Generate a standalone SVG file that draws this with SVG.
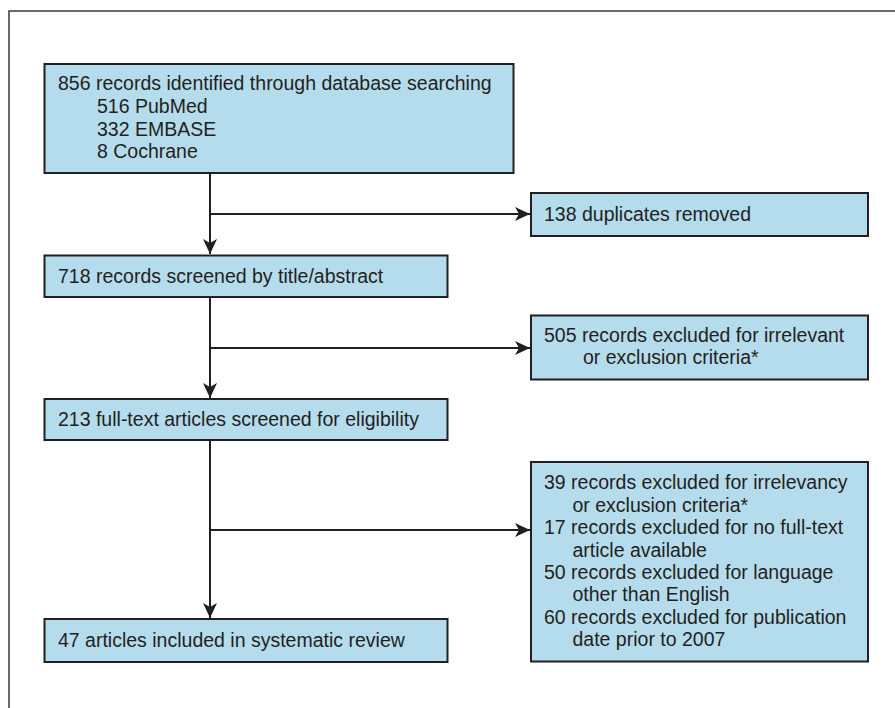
<svg xmlns="http://www.w3.org/2000/svg" width="895" height="708" viewBox="0 0 895 708">
<style>
.frame{fill:none;stroke:#3a3a3a;stroke-width:1.5}
.box{fill:#b5dcec;stroke:#231f20;stroke-width:2}
.t{font-family:"Liberation Sans",Arial,sans-serif;font-size:19.5px;fill:#231f20}
.ln{fill:none;stroke:#231f20;stroke-width:2}
</style>
<defs>
<marker id="ah" markerWidth="16" markerHeight="14" refX="15" refY="7" orient="auto" markerUnits="userSpaceOnUse">
<path d="M0,0 L15,7 L0,14 L4,7 Z" fill="#231f20"/>
</marker>
</defs>
<rect x="9" y="11" width="900" height="720" class="frame"/>
<g id="connectors">
<path class="ln" d="M210,173 V254" marker-end="url(#ah)"/>
<path class="ln" d="M210,214 H530" marker-end="url(#ah)"/>
<path class="ln" d="M210,297 V398" marker-end="url(#ah)"/>
<path class="ln" d="M210,348 H530" marker-end="url(#ah)"/>
<path class="ln" d="M210,440 V618" marker-end="url(#ah)"/>
<path class="ln" d="M210,530 H530" marker-end="url(#ah)"/>
</g>
<g id="n1">
<rect class="box" x="44.5" y="64" width="469" height="109"/>
<text class="t" x="58" y="90">856 records identified through database searching</text>
<text class="t" x="97" y="113">516 PubMed</text>
<text class="t" x="97" y="135.5">332 EMBASE</text>
<text class="t" x="97" y="158">8 Cochrane</text>
</g>
<g id="n2">
<rect class="box" x="531" y="193" width="337" height="43"/>
<text class="t" x="544" y="221">138 duplicates removed</text>
</g>
<g id="n3">
<rect class="box" x="44.5" y="255.5" width="403" height="41.5"/>
<text class="t" x="58" y="283">718 records screened by title/abstract</text>
</g>
<g id="n4">
<rect class="box" x="531" y="315.5" width="337" height="64"/>
<text class="t" x="544" y="342.3">505 records excluded for irrelevant</text>
<text class="t" x="583" y="364.3">or exclusion criteria*</text>
</g>
<g id="n5">
<rect class="box" x="44.5" y="399" width="403" height="41"/>
<text class="t" x="58" y="426">213 full-text articles screened for eligibility</text>
</g>
<g id="n6">
<rect class="box" x="531" y="462" width="337" height="199.5"/>
<text class="t" x="544" y="489.3">39 records excluded for irrelevancy</text>
<text class="t" x="572.5" y="511.5">or exclusion criteria*</text>
<text class="t" x="544" y="534.3">17 records excluded for no full-text</text>
<text class="t" x="572.5" y="556.5">article available</text>
<text class="t" x="544" y="579">50 records excluded for language</text>
<text class="t" x="572.5" y="601.3">other than English</text>
<text class="t" x="544" y="624">60 records excluded for publication</text>
<text class="t" x="572.5" y="646.3">date prior to 2007</text>
</g>
<g id="n7">
<rect class="box" x="44.5" y="619" width="403" height="43"/>
<text class="t" x="58" y="646.7">47 articles included in systematic review</text>
</g>
</svg>
